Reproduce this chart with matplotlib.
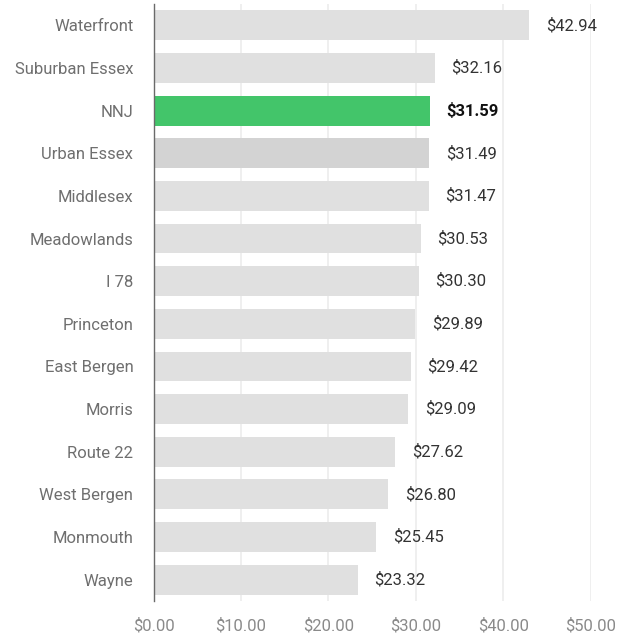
import matplotlib
matplotlib.use("Agg")
import matplotlib.pyplot as plt
from matplotlib.ticker import FuncFormatter

categories = ["Waterfront", "Suburban Essex", "NNJ", "Urban Essex", "Middlesex",
              "Meadowlands", "I 78", "Princeton", "East Bergen", "Morris",
              "Route 22", "West Bergen", "Monmouth", "Wayne"]
values = [42.94, 32.16, 31.59, 31.49, 31.47, 30.53, 30.30, 29.89, 29.42, 29.09,
          27.62, 26.80, 25.45, 23.32]
xticks = [0, 10, 20, 30, 40, 50]

plt.rcParams['font.family'] = ['Roboto', 'DejaVu Sans']

fig = plt.figure(figsize=(6.33, 6.35), dpi=100)
ax = fig.add_axes([0.2425, 0.0535, 0.9336 - 0.2425, 0.9937 - 0.0535])

colors = []
for c in categories:
    if c == "NNJ":
        colors.append("#43c56a")
    elif c == "Urban Essex":
        colors.append("#d3d3d3")
    else:
        colors.append("#e0e0e0")

y = list(range(len(categories)))
ax.barh(y, values, height=0.7, color=colors, zorder=2)
ax.set_ylim(len(categories) - 0.5, -0.5)
ax.set_xlim(0, 50)
ax.set_yticks(y)
ax.set_yticklabels(categories, color="#6f6f6f", fontsize=12)
ax.set_xticks(xticks)
ax.xaxis.set_major_formatter(FuncFormatter(lambda v, p: f"${v:.2f}"))
for lab in ax.get_xticklabels():
    lab.set_color("#8a8a8a")
    lab.set_fontsize(12)
ax.tick_params(axis="both", length=0)
ax.tick_params(axis="x", pad=12)
ax.tick_params(axis="y", pad=14.5)
ax.grid(axis="x", color="#ececec", linewidth=1.2, zorder=0)
ax.set_axisbelow(True)
for s in ["top", "right", "bottom"]:
    ax.spines[s].set_visible(False)
ax.spines["left"].set_color("#6a6a6a")
ax.spines["left"].set_linewidth(1.0)
ax.spines["left"].set_zorder(3)

for yi, v, c in zip(y, values, categories):
    ax.annotate(f"${v:.2f}", xy=(v, yi), xytext=(12, 0), textcoords="offset points",
                va="center", ha="left", fontsize=12,
                color="#111111" if c == "NNJ" else "#333333",
                fontweight="bold" if c == "NNJ" else "normal")

fig.savefig("out.png", dpi=100)
